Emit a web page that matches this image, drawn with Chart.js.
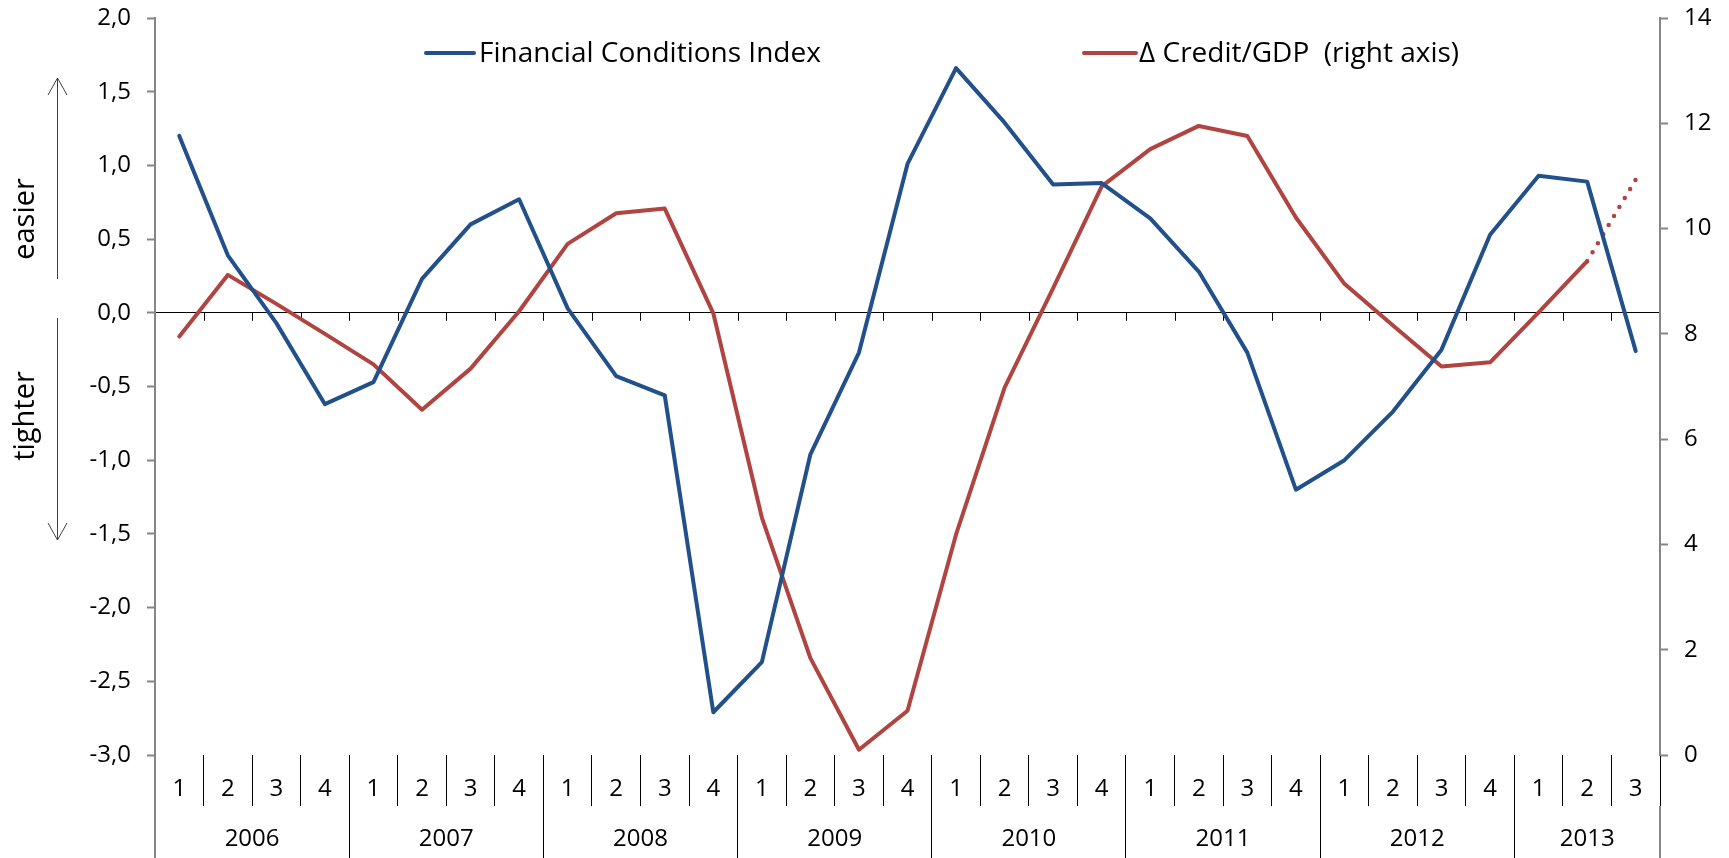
<!DOCTYPE html>
<html>
<head>
<meta charset="utf-8">
<script src="https://cdn.jsdelivr.net/npm/chart.js@4/dist/chart.umd.min.js"></script>
<style>
  html, body { margin: 0; padding: 0; background: #fff; }
  #chart { display: block; }
</style>
</head>
<body>
<canvas id="chart" width="1729" height="858"></canvas>
<script>
// quarters 2006Q1 .. 2013Q3
const quarters = ['1','2','3','4','1','2','3','4','1','2','3','4','1','2','3','4',
                  '1','2','3','4','1','2','3','4','1','2','3','4','1','2','3'];
const years = ['2006','2007','2008','2009','2010','2011','2012','2013'];
const quartersPerYear = [4, 4, 4, 4, 4, 4, 4, 3];

// Financial Conditions Index (left axis)
const fci = [1.20, 0.39, -0.07, -0.62, -0.47, 0.23, 0.60, 0.77, 0.03, -0.43, -0.56,
             -2.71, -2.37, -0.96, -0.27, 1.01, 1.66, 1.29, 0.87, 0.88, 0.64, 0.28,
             -0.27, -1.20, -1.00, -0.67, -0.25, 0.53, 0.93, 0.89, -0.26];
// Δ Credit/GDP (right axis), last quarter is the dotted projection
const credit = [7.95, 9.12, 8.57, 8.00, 7.42, 6.56, 7.34, 8.43, 9.71, 10.29, 10.38,
                8.39, 4.51, 1.84, 0.10, 0.84, 4.19, 6.98, 8.87, 10.80, 11.51, 11.95,
                11.76, 10.21, 8.95, 8.16, 7.38, 7.46, 8.41, 9.38, null];
const creditProj = [null, null, null, null, null, null, null, null, null, null, null,
                    null, null, null, null, null, null, null, null, null, null, null,
                    null, null, null, null, null, null, null, 9.38, 10.93];

const leftTicks = [-3, -2.5, -2, -1.5, -1, -0.5, 0, 0.5, 1, 1.5, 2];
const rightTicks = [0, 2, 4, 6, 8, 10, 12, 14];

const BLUE = '#22508A';
const RED = '#B04441';
const AXIS_GREY = '#868686';
const FONT = "'Open Sans', sans-serif";

// year label positions (centre of each group of quarters) and group boundaries
const yearCentres = [];
const yearBounds = [-0.5];
let start = 0;
quartersPerYear.forEach(n => {
    yearCentres.push(start + (n - 1) / 2);
    start += n;
    yearBounds.push(start - 0.5);
});

// legend, easier/tighter arrows and the small ticks on the zero line
const extras = {
    id: 'extras',
    beforeDatasetsDraw(chart) {
        const { ctx, scales: { x, y } } = chart;
        const y0 = y.getPixelForValue(0);
        ctx.save();
        ctx.strokeStyle = '#000';
        ctx.lineWidth = 1;
        ctx.beginPath();
        for (let i = 1; i < quarters.length; i++) {
            const px = Math.round(x.getPixelForValue(i - 0.5)) + 0.5;
            ctx.moveTo(px, y0);
            ctx.lineTo(px, y0 + 8);
        }
        ctx.stroke();
        ctx.restore();
    },
    afterDraw(chart) {
        const ctx = chart.ctx;
        ctx.save();
        // legend
        ctx.lineWidth = 4;
        ctx.lineCap = 'round';
        ctx.strokeStyle = BLUE;
        ctx.beginPath(); ctx.moveTo(426, 53); ctx.lineTo(474, 53); ctx.stroke();
        ctx.strokeStyle = RED;
        ctx.beginPath(); ctx.moveTo(1084, 53); ctx.lineTo(1136, 53); ctx.stroke();
        ctx.fillStyle = '#000';
        ctx.font = '28px ' + FONT;
        ctx.textBaseline = 'middle';
        ctx.textAlign = 'left';
        ctx.fillText('Financial Conditions Index', 479, 54);
        ctx.fillText('\u0394 Credit/GDP  (right axis)', 1139, 54);

        // arrows
        ctx.strokeStyle = '#404040';
        ctx.lineWidth = 1;
        ctx.lineCap = 'butt';
        ctx.beginPath();
        ctx.moveTo(57.5, 279); ctx.lineTo(57.5, 78);
        ctx.moveTo(48, 95); ctx.lineTo(57.5, 78); ctx.lineTo(67, 95);
        ctx.moveTo(57.5, 318); ctx.lineTo(57.5, 540);
        ctx.moveTo(48, 523); ctx.lineTo(57.5, 540); ctx.lineTo(67, 523);
        ctx.stroke();

        // rotated side labels
        ctx.font = '29px ' + FONT;
        ctx.textAlign = 'center';
        ctx.textBaseline = 'alphabetic';
        [['easier', 219], ['tighter', 416]].forEach(([t, cy]) => {
            ctx.save();
            ctx.translate(34, cy);
            ctx.rotate(-Math.PI / 2);
            ctx.fillText(t, 0, 0);
            ctx.restore();
        });
        ctx.restore();
    }
};

const fmt = v => v.toFixed(1).replace('.', ',');

// keep the vertical axes from pushing the plot area down
const fixVertical = width => s => {
    s.width = width;
    s.paddingTop = 0;
    s.paddingBottom = 0;
};

new Chart(document.getElementById('chart'), {
    type: 'line',
    data: {
        labels: quarters,
        datasets: [
            {
                label: 'Financial Conditions Index',
                data: fci,
                yAxisID: 'y',
                borderColor: BLUE,
                borderWidth: 4,
                pointRadius: 0,
                tension: 0,
                borderJoinStyle: 'round',
                borderCapStyle: 'round'
            },
            {
                label: '\u0394 Credit/GDP  (right axis)',
                data: credit,
                yAxisID: 'y1',
                borderColor: RED,
                borderWidth: 4,
                pointRadius: 0,
                tension: 0,
                borderJoinStyle: 'round',
                borderCapStyle: 'round'
            },
            {
                label: 'projection',
                data: creditProj,
                yAxisID: 'y1',
                borderColor: RED,
                borderWidth: 4.5,
                borderDash: [0, 10.5],
                borderCapStyle: 'round',
                pointRadius: 0,
                tension: 0
            }
        ]
    },
    options: {
        responsive: false,
        animation: false,
        layout: { padding: { top: 18, left: 0, right: 0, bottom: 0 } },
        plugins: {
            legend: { display: false },
            tooltip: { enabled: false }
        },
        scales: {
            x: {
                type: 'category',
                position: 'bottom',
                weight: 0,
                offset: true,
                border: { display: false },
                grid: {
                    offset: true,
                    drawOnChartArea: false,
                    drawTicks: true,
                    tickLength: 51,
                    color: c => (c.index === 0 || c.index === quarters.length) ? AXIS_GREY : '#000',
                    lineWidth: c => (c.index === 0 || c.index === quarters.length) ? 2 : 1
                },
                ticks: {
                    autoSkip: false,
                    maxRotation: 0,
                    padding: -31,
                    color: '#000',
                    font: { family: FONT, size: 24 }
                },
                afterFit: s => { s.height = 51; }
            },
            x2: {
                type: 'linear',
                position: 'bottom',
                weight: 1,
                min: -0.5,
                max: quarters.length - 0.5,
                border: { display: false },
                afterBuildTicks: s => {
                    s.ticks = yearBounds.concat(yearCentres)
                        .sort((a, b) => a - b)
                        .map(v => ({ value: v }));
                },
                grid: {
                    drawOnChartArea: false,
                    drawTicks: true,
                    tickLength: 52,
                    color: c => {
                        const v = c.tick ? c.tick.value : null;
                        if (!yearBounds.includes(v)) return 'rgba(0,0,0,0)';
                        return (v === yearBounds[0] || v === yearBounds[yearBounds.length - 1]) ? AXIS_GREY : '#000';
                    },
                    lineWidth: c => {
                        const v = c.tick ? c.tick.value : null;
                        return (v === yearBounds[0] || v === yearBounds[yearBounds.length - 1]) ? 2 : 1;
                    }
                },
                ticks: {
                    autoSkip: false,
                    maxRotation: 0,
                    padding: -33,
                    color: '#000',
                    font: { family: FONT, size: 24 },
                    callback: v => {
                        const k = yearCentres.indexOf(v);
                        return k >= 0 ? years[k] : '';
                    }
                },
                afterFit: s => { s.height = 52; }
            },
            y: {
                position: 'left',
                min: -3,
                max: 2,
                afterBuildTicks: s => { s.ticks = leftTicks.map(v => ({ value: v })); },
                border: { color: AXIS_GREY, width: 2 },
                grid: {
                    color: c => (c.tick && c.tick.value === 0) ? '#000' : 'rgba(0,0,0,0)',
                    lineWidth: 1,
                    drawTicks: true,
                    tickLength: 8,
                    tickColor: AXIS_GREY,
                    tickWidth: 2
                },
                ticks: {
                    padding: 16,
                    color: '#000',
                    font: { family: FONT, size: 24 },
                    callback: v => fmt(v)
                },
                afterFit: fixVertical(155)
            },
            y1: {
                position: 'right',
                min: 0,
                max: 14,
                afterBuildTicks: s => { s.ticks = rightTicks.map(v => ({ value: v })); },
                border: { color: AXIS_GREY, width: 2 },
                grid: {
                    drawOnChartArea: false,
                    drawTicks: true,
                    tickLength: 8,
                    tickColor: AXIS_GREY,
                    tickWidth: 2
                },
                ticks: {
                    padding: 16,
                    color: '#000',
                    font: { family: FONT, size: 24 }
                },
                afterFit: fixVertical(69)
            }
        }
    },
    plugins: [extras]
});
</script>
</body>
</html>
